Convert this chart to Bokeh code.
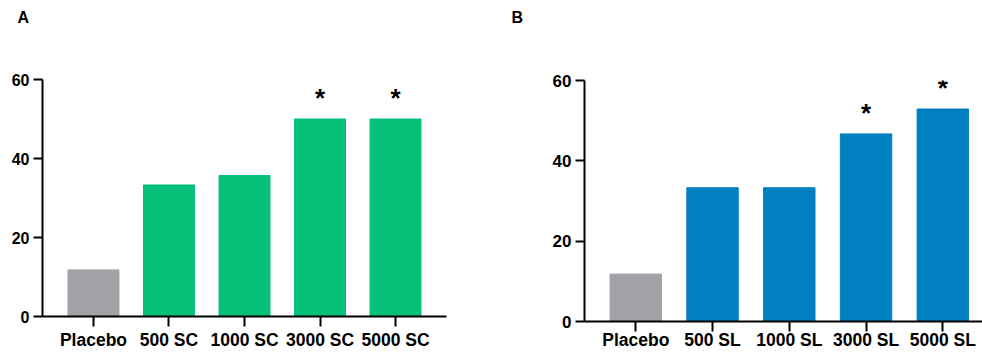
from bokeh.plotting import figure
from bokeh.models import Range1d, FixedTicker
from bokeh.layouts import row, column
from bokeh.embed import file_html
from bokeh.resources import INLINE
from bokeh.core.properties import value

# ---- data ----
cats_a = ["Placebo", "500 SC", "1000 SC", "3000 SC", "5000 SC"]
vals_a = [11.8, 33.3, 35.7, 50.0, 50.0]
sig_a = [False, False, False, True, True]

cats_b = ["Placebo", "500 SL", "1000 SL", "3000 SL", "5000 SL"]
vals_b = [11.8, 33.3, 33.3, 46.7, 52.9]
sig_b = [False, False, False, True, True]

y_ticks = [0, 20, 40, 60]

GRAY = "#a2a1a6"
GREEN = "#06bf78"
BLUE = "#0080c1"
FONT = "Liberation Sans"
HEAD_H = 30


def letter_fig(letter, width, lx):
    f = figure(width=width, height=HEAD_H, x_range=Range1d(0, width),
               y_range=Range1d(0, HEAD_H), output_backend="svg",
               toolbar_location=None, min_border=0,
               x_axis_location=None, y_axis_location=None,
               frame_align=False)
    f.title.visible = False
    f.grid.visible = False
    f.outline_line_color = None
    f.text(x=[lx], y=[HEAD_H - 17], text=[letter], text_align="left",
           text_baseline="middle", text_font=value(FONT),
           text_font_size="16px", text_font_style="bold",
           text_color="#000000")
    return f


def panel(cats, vals, sig, color, width, x_start, x_end,
          mb_left, mb_right, mb_top, mb_bottom, ytick_size,
          bar_w, x_standoff):
    p = figure(width=width, height=356 - HEAD_H,
               x_range=Range1d(x_start, x_end),
               y_range=Range1d(0, 60), output_backend="svg",
               toolbar_location=None, min_border_left=mb_left,
               min_border_right=mb_right, min_border_top=mb_top,
               min_border_bottom=mb_bottom, frame_align=False)
    p.title.visible = False

    xs = list(range(len(cats)))
    colors = [GRAY] + [color] * (len(cats) - 1)
    p.vbar(x=xs, top=vals, bottom=0, width=bar_w, fill_color=colors,
           line_color=colors)

    sx = [x for x, s in zip(xs, sig) if s]
    sy = [v for v, s in zip(vals, sig) if s]
    p.text(x=sx, y=sy, text=["*"] * len(sx), text_align="center",
           text_baseline="alphabetic", y_offset=-21,
           text_font=value(FONT), text_font_size="26px",
           text_font_style="bold", text_color="#000000")

    p.grid.visible = False
    p.outline_line_color = None

    ya = p.yaxis[0]
    ya.ticker = FixedTicker(ticks=y_ticks)
    ya.axis_line_width = 2
    ya.axis_line_color = "#000000"
    ya.major_tick_line_width = 2
    ya.major_tick_line_color = "#000000"
    ya.major_tick_out = 9
    ya.major_tick_in = 0
    ya.minor_tick_line_color = None
    ya.major_label_standoff = 4
    ya.major_label_text_font = FONT
    ya.major_label_text_font_size = ytick_size
    ya.major_label_text_font_style = "bold"
    ya.major_label_text_color = "#000000"

    xa = p.xaxis[0]
    xa.ticker = FixedTicker(ticks=xs)
    xa.major_label_overrides = {i: c for i, c in zip(xs, cats)}
    xa.axis_line_width = 2
    xa.axis_line_color = "#000000"
    xa.major_tick_line_width = 2
    xa.major_tick_line_color = "#000000"
    xa.major_tick_out = 10
    xa.major_tick_in = 0
    xa.minor_tick_line_color = None
    xa.major_label_standoff = x_standoff
    xa.major_label_text_font = FONT
    xa.major_label_text_font_size = "17.5px"
    xa.major_label_text_font_style = "bold"
    xa.major_label_text_color = "#000000"
    return p


la = letter_fig("A", 500, 17)
lb = letter_fig("B", 482, 11)
pa = panel(cats_a, vals_a, sig_a, GREEN, 500, -0.675, 4.675,
           42, 54, 79 - HEAD_H, 40, "16px", 0.675, 3)
pb = panel(cats_b, vals_b, sig_b, BLUE, 482, -0.668, 4.517,
           84, 0, 80 - HEAD_H, 35, "17px", 0.67, -2)

layout = row(column(la, pa), column(lb, pb))
open("out.html", "w").write(file_html(layout, INLINE))
